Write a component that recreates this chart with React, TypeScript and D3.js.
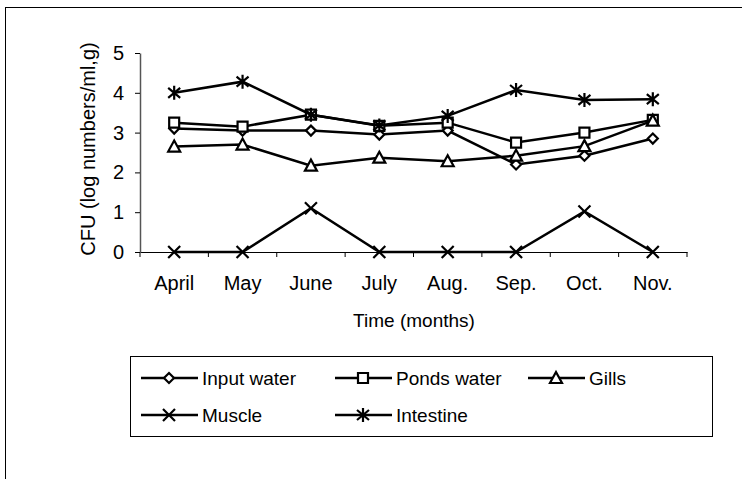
import { useEffect, useRef } from "react";
import * as d3 from "d3";

const months = ["April", "May", "June", "July", "Aug.", "Sep.", "Oct.", "Nov."];
const yTicks = [0, 1, 2, 3, 4, 5];

const inputWater = [3.1, 3.05, 3.05, 2.95, 3.05, 2.2, 2.42, 2.85];
const pondsWater = [3.25, 3.15, 3.45, 3.17, 3.25, 2.75, 3.0, 3.32];
const gills = [2.65, 2.7, 2.17, 2.37, 2.28, 2.42, 2.66, 3.3];
const muscle = [0, 0, 1.1, 0, 0, 0, 1.02, 0];
const intestine = [4.0, 4.28, 3.45, 3.18, 3.42, 4.07, 3.82, 3.84];

const seriesNames = ["Input water", "Ponds water", "Gills", "Muscle", "Intestine"];
const seriesValues = [inputWater, pondsWater, gills, muscle, intestine];
const seriesMarkers = ["diamond", "square", "triangle", "x", "asterisk"];

// marker path centred at 0,0
function markerPath(kind: string) {
  switch (kind) {
    case "diamond":
      return "M0,-5L5,0L0,5L-5,0Z";
    case "square":
      return "M-5,-5H5V5H-5Z";
    case "triangle":
      return "M0,-6L6,5H-6Z";
    case "x":
      return "M-6,-6L6,6M-6,6L6,-6";
    default:
      return "M-6,-5L6,5M-6,5L6,-5M0,-7V7";
  }
}

function App() {
  const ref = useRef<SVGSVGElement>(null);

  useEffect(() => {
    const svg = d3.select(ref.current);
    svg.selectAll("*").remove();

    const font = "'Liberation Sans', Arial, sans-serif";
    const margin = { left: 140, top: 53 };
    const width = 547, height = 199;

    // outer frame
    svg.append("rect")
      .attr("x", 5.5).attr("y", 7.5)
      .attr("width", 760).attr("height", 500)
      .attr("fill", "none").attr("stroke", "#000").attr("stroke-width", 1);

    const g = svg.append("g").attr("transform", "translate(" + margin.left + "," + margin.top + ")");

    const x = d3.scaleBand().domain(months).range([0, width]);
    const y = d3.scaleLinear().domain([0, 5]).range([height, 0]);

    // X axis
    const xAxis = g.append("g")
      .attr("transform", "translate(0," + height + ")")
      .call(d3.axisBottom(x).tickSize(0).tickPadding(24));
    xAxis.select(".domain").attr("stroke", "#000").attr("stroke-width", 1.2);
    xAxis.selectAll("text").attr("font-family", font).attr("font-size", 20).attr("fill", "#000");
    // ticks between categories
    g.append("g").selectAll("line")
      .data(d3.range(months.length + 1))
      .enter().append("line")
      .attr("x1", (i: number) => i * x.step()).attr("x2", (i: number) => i * x.step())
      .attr("y1", height).attr("y2", height + 5)
      .attr("stroke", "#000").attr("stroke-width", 1);

    // Y axis
    const yAxis = g.append("g")
      .call(d3.axisLeft(y).tickValues(yTicks).tickFormat(d3.format("d")).tickSize(5).tickPadding(11).tickSizeOuter(0));
    yAxis.select(".domain").attr("stroke", "#555").attr("stroke-width", 1.5);
    yAxis.selectAll("line").attr("stroke", "#000");
    yAxis.selectAll("text").attr("font-family", font).attr("font-size", 20).attr("fill", "#000");

    svg.append("text")
      .attr("transform", "translate(95,149) rotate(-90)")
      .attr("text-anchor", "middle")
      .attr("font-family", font).attr("font-size", 20)
      .text("CFU (log numbers/ml,g)");

    svg.append("text")
      .attr("x", 414).attr("y", 327)
      .attr("text-anchor", "middle")
      .attr("font-family", font).attr("font-size", 19)
      .text("Time (months)");

    const line = d3.line<number>()
      .x((d, i) => (x(months[i]) as number) + x.bandwidth() / 2)
      .y((d) => y(d));

    seriesValues.forEach((vals, s) => {
      g.append("path")
        .attr("fill", "none").attr("stroke", "#000").attr("stroke-width", 2.5)
        .attr("d", line(vals));
      g.selectAll(".m" + s)
        .data(vals)
        .enter().append("path")
        .attr("transform", (d, i) => "translate(" + ((x(months[i]) as number) + x.bandwidth() / 2) + "," + y(d) + ")")
        .attr("d", markerPath(seriesMarkers[s]))
        .attr("fill", s < 3 ? "#fff" : "none")
        .attr("stroke", "#000").attr("stroke-width", 2.2);
    });

    // legend
    const lg = svg.append("g");
    lg.append("rect")
      .attr("x", 130.5).attr("y", 356.5).attr("width", 582).attr("height", 80)
      .attr("fill", "#fff").attr("stroke", "#000").attr("stroke-width", 1);
    const colX = [141, 335, 528];
    const rowY = [378, 415];
    seriesNames.forEach((name, s) => {
      const lx = colX[s % 3];
      const ly = rowY[Math.floor(s / 3)];
      lg.append("line")
        .attr("x1", lx).attr("x2", lx + 57).attr("y1", ly).attr("y2", ly)
        .attr("stroke", "#000").attr("stroke-width", 2.5);
      lg.append("path")
        .attr("transform", "translate(" + (lx + 28) + "," + ly + ")")
        .attr("d", markerPath(seriesMarkers[s]))
        .attr("fill", s < 3 ? "#fff" : "none")
        .attr("stroke", "#000").attr("stroke-width", 2.2);
      lg.append("text")
        .attr("x", lx + 61).attr("y", ly)
        .attr("dy", "0.35em")
        .attr("font-family", font).attr("font-size", 19)
        .text(name);
    });
  }, []);

  return (
    <svg ref={ref} width={742} height={479}
      style={{ position: "absolute", left: 0, top: 0, background: "#fff" }} />
  );
}

export default App;
